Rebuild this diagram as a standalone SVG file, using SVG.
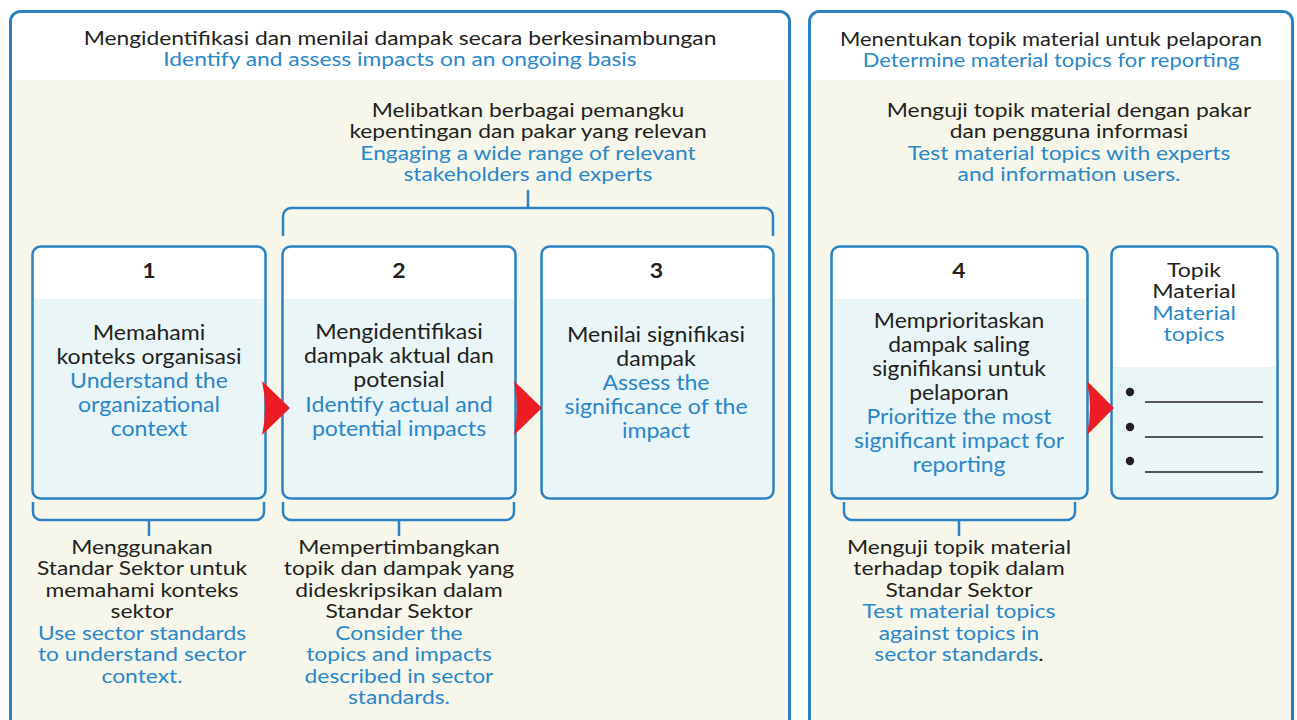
<svg xmlns="http://www.w3.org/2000/svg" width="1297" height="720" viewBox="0 0 1297 720">
<style>
text{font-family:Lato,"Open Sans","Liberation Sans",sans-serif;text-anchor:middle;fill:#231f20}
.s{font-size:19px}
.t{font-size:21px}
.tp{font-size:20px}
.b{fill:#2a87c9}
.n{font-size:21px;font-weight:bold}
.frame{fill:#f6f7ea;stroke:#2a82c4;stroke-width:3}
.box{fill:#eaf5f7;stroke:#2a82c4;stroke-width:2.5}
.wh{fill:#ffffff}
.br{fill:none;stroke:#2a82c4;stroke-width:2.5}
.arr{fill:#ed1c24}
.ln{stroke:#231f20;stroke-width:1.3}
</style>
<rect width="1297" height="720" fill="#ffffff"/>
<g id="panel-left">
<rect class="frame" x="10.5" y="11.5" width="779" height="740" rx="10"/>
<path class="wh" d="M12,80 V22 a9,9 0 0 1 9,-9 H779 a9,9 0 0 1 9,9 V80 Z"/>
<g transform="translate(400 0) scale(1.2 1)">
<text class="s" x="0" y="45">Mengidentifikasi dan menilai dampak secara berkesinambungan</text>
<text class="s b" x="0" y="66">Identify and assess impacts on an ongoing basis</text>
</g>
</g>
<g id="panel-right">
<rect class="frame" x="809.5" y="11.5" width="483" height="740" rx="10"/>
<path class="wh" d="M811,80 V22 a9,9 0 0 1 9,-9 H1282 a9,9 0 0 1 9,9 V80 Z"/>
<g transform="translate(1051 0) scale(1.155 1)">
<text class="s" x="0" y="46">Menentukan topik material untuk pelaporan</text>
<text class="s b" x="0" y="67">Determine material topics for reporting</text>
</g>
</g>
<g id="note-engage" transform="translate(528 0) scale(1.2 1)">
<text class="s" x="0" y="117">Melibatkan berbagai pemangku</text>
<text class="s" x="0" y="138.5">kepentingan dan pakar yang relevan</text>
<text class="s b" x="0" y="160">Engaging a wide range of relevant</text>
<text class="s b" x="0" y="181.5">stakeholders and experts</text>
</g>
<g id="note-test" transform="translate(1069 0) scale(1.2 1)">
<text class="s" x="0" y="117">Menguji topik material dengan pakar</text>
<text class="s" x="0" y="138.5">dan pengguna informasi</text>
<text class="s b" x="0" y="160">Test material topics with experts</text>
<text class="s b" x="0" y="181.5">and information users.</text>
</g>
<g id="node-1">
<rect class="box" x="32.5" y="246.5" width="233" height="252" rx="8"/>
<path class="wh" d="M34,299 V256 a8,8 0 0 1 8,-8 H256 a8,8 0 0 1 8,8 V299 Z"/>
<g transform="translate(149 0) scale(1.1 1)">
<text class="n" x="0" y="278">1</text>
<text class="t" x="0" y="340">Memahami</text>
<text class="t" x="0" y="364">konteks organisasi</text>
<text class="t b" x="0" y="388">Understand the</text>
<text class="t b" x="0" y="412">organizational</text>
<text class="t b" x="0" y="436">context</text>
</g>
</g>
<g id="node-2">
<rect class="box" x="282.5" y="246.5" width="233" height="252" rx="8"/>
<path class="wh" d="M284,299 V256 a8,8 0 0 1 8,-8 H506 a8,8 0 0 1 8,8 V299 Z"/>
<g transform="translate(399 0) scale(1.1 1)">
<text class="n" x="0" y="278">2</text>
<text class="t" x="0" y="339">Mengidentifikasi</text>
<text class="t" x="0" y="363">dampak aktual dan</text>
<text class="t" x="0" y="387">potensial</text>
<text class="t b" x="0" y="412">Identify actual and</text>
<text class="t b" x="0" y="436">potential impacts</text>
</g>
</g>
<g id="node-3">
<rect class="box" x="541.5" y="246.5" width="232" height="252" rx="8"/>
<path class="wh" d="M543,299 V256 a8,8 0 0 1 8,-8 H764 a8,8 0 0 1 8,8 V299 Z"/>
<g transform="translate(656 0) scale(1.1 1)">
<text class="n" x="0.5" y="278">3</text>
<text class="t" x="0" y="342">Menilai signifikasi</text>
<text class="t" x="0" y="366">dampak</text>
<text class="t b" x="0" y="390">Assess the</text>
<text class="t b" x="0" y="414">significance of the</text>
<text class="t b" x="0" y="438">impact</text>
</g>
</g>
<g id="node-4">
<rect class="box" x="831.5" y="246.5" width="256" height="252" rx="8"/>
<path class="wh" d="M833,299 V256 a8,8 0 0 1 8,-8 H1078 a8,8 0 0 1 8,8 V299 Z"/>
<g transform="translate(959 0) scale(1.09 1)">
<text class="n" x="0" y="278">4</text>
<text class="t" x="0" y="328">Memprioritaskan</text>
<text class="t" x="0" y="352">dampak saling</text>
<text class="t" x="0" y="376">signifikansi untuk</text>
<text class="t" x="0" y="400">pelaporan</text>
<text class="t b" x="0" y="424">Prioritize the most</text>
<text class="t b" x="0" y="448">significant impact for</text>
<text class="t b" x="0" y="472">reporting</text>
</g>
</g>
<g id="node-topics">
<rect class="box" x="1111.5" y="246.5" width="166" height="252" rx="8"/>
<path class="wh" d="M1113,367 V256 a8,8 0 0 1 8,-8 H1268 a8,8 0 0 1 8,8 V367 Z"/>
<g transform="translate(1194 0) scale(1.155 1)">
<text class="tp" x="0" y="277">Topik</text>
<text class="tp" x="0" y="298.5">Material</text>
<text class="tp b" x="0" y="320">Material</text>
<text class="tp b" x="0" y="341.5">topics</text>
</g>
<circle cx="1130" cy="392" r="4.2" fill="#231f20"/>
<circle cx="1130" cy="427" r="4.2" fill="#231f20"/>
<circle cx="1130" cy="461" r="4.2" fill="#231f20"/>
<line class="ln" x1="1145" y1="402" x2="1263" y2="402"/>
<line class="ln" x1="1145" y1="437" x2="1263" y2="437"/>
<line class="ln" x1="1145" y1="472" x2="1263" y2="472"/>
</g>
<g id="note-sector-1" transform="translate(142 0) scale(1.2 1)">
<text class="s" x="0" y="554">Menggunakan</text>
<text class="s" x="0" y="575.5">Standar Sektor untuk</text>
<text class="s" x="0" y="597">memahami konteks</text>
<text class="s" x="0" y="618.5">sektor</text>
<text class="s b" x="0" y="640">Use sector standards</text>
<text class="s b" x="0" y="661.5">to understand sector</text>
<text class="s b" x="0" y="683">context.</text>
</g>
<g id="note-sector-2" transform="translate(399 0) scale(1.2 1)">
<text class="s" x="0" y="554">Mempertimbangkan</text>
<text class="s" x="0" y="575.5">topik dan dampak yang</text>
<text class="s" x="0" y="597">dideskripsikan dalam</text>
<text class="s" x="0" y="618.5">Standar Sektor</text>
<text class="s b" x="0" y="640">Consider the</text>
<text class="s b" x="0" y="661.5">topics and impacts</text>
<text class="s b" x="0" y="683">described in sector</text>
<text class="s b" x="0" y="704.5">standards.</text>
</g>
<g id="note-sector-4" transform="translate(959 0) scale(1.2 1)">
<text class="s" x="0" y="554">Menguji topik material</text>
<text class="s" x="0" y="575.5">terhadap topik dalam</text>
<text class="s" x="0" y="597">Standar Sektor</text>
<text class="s b" x="0" y="618.5">Test material topics</text>
<text class="s b" x="0" y="640">against topics in</text>
<text class="s" x="0" y="661.5"><tspan class="b">sector standards</tspan>.</text>
</g>
<g id="connectors">
<path class="br" d="M283,236 V216 a8,8 0 0 1 8,-8 H765 a8,8 0 0 1 8,8 V236 M528,190 V208"/>
<path class="br" d="M33,502 V512 a8,8 0 0 0 8,8 H256 a8,8 0 0 0 8,-8 V502 M149,520 V536"/>
<path class="br" d="M283,502 V512 a8,8 0 0 0 8,8 H506 a8,8 0 0 0 8,-8 V502 M399,520 V536"/>
<path class="br" d="M844,502 V512 a8,8 0 0 0 8,8 H1067 a8,8 0 0 0 8,-8 V502 M959,520 V536"/>
<path class="arr" d="M262,381 L290,408 L262,435 Q268,408 262,381 Z"/>
<path class="arr" d="M514,381 L542,408 L514,435 Q520,408 514,381 Z"/>
<path class="arr" d="M1087,381 L1114,408 L1087,435 Q1093,408 1087,381 Z"/>
</g>
</svg>
